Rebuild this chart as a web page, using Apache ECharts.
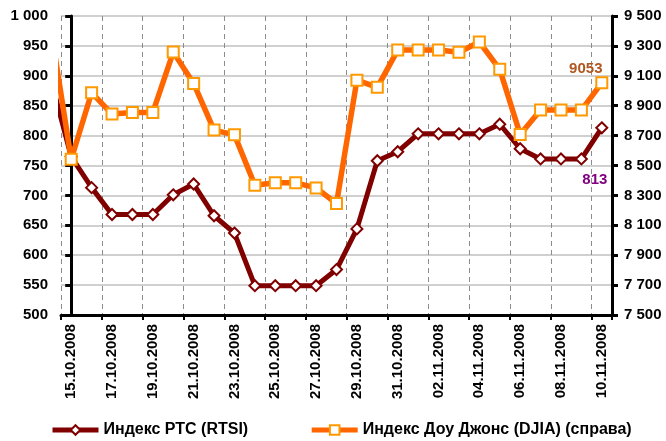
<!DOCTYPE html>
<html>
<head>
<meta charset="utf-8">
<script src="https://cdn.jsdelivr.net/npm/echarts@6/dist/echarts.min.js"></script>
<style>
html,body{margin:0;padding:0;background:#fff;}
#chart{width:666px;height:441px;}
</style>
</head>
<body>
<div id="chart"></div>
<script>
// Categories (dates)
const dates = [
  "15.10.2008","16.10.2008","17.10.2008","18.10.2008","19.10.2008","20.10.2008","21.10.2008",
  "22.10.2008","23.10.2008","24.10.2008","25.10.2008","26.10.2008","27.10.2008","28.10.2008",
  "29.10.2008","30.10.2008","31.10.2008","01.11.2008","02.11.2008","03.11.2008","04.11.2008",
  "05.11.2008","06.11.2008","07.11.2008","08.11.2008","09.11.2008","10.11.2008"
];
// Value of each index on the day before the first shown date (line enters from the left edge)
const rtsiPrev = 894;
const djiaPrev = 9414;
// Индекс РТС (RTSI), left axis
const rtsi = [765,713,668,668,668,701,719,666,637,549,549,549,549,576,644,758,773,803,803,803,803,819,778,761,761,761,813];
// Индекс Доу Джонс (DJIA), right axis
const djia = [8542,8987,8844,8855,8855,9259,9049,8737,8705,8368,8384,8384,8350,8246,9071,9023,9272,9272,9272,9257,9326,9143,8708,8871,8871,8871,9053];
const rtsiName = "Индекс РТС (RTSI)";
const djiaName = "Индекс Доу Джонс (DJIA) (справа)";
const leftTicks = {min: 500, max: 1000, interval: 50};
const rightTicks = {min: 7500, max: 9500, interval: 200};

function fmtSpace(v){
  return String(Math.round(v)).replace(/\B(?=(\d{3})+(?!\d))/g, " ");
}
function buildData(prev, arr, labelCfg){
  const out = [{value: [-1, prev], symbol: 'none'}];
  arr.forEach((v, i) => {
    const item = {value: [i, v]};
    if (i === arr.length - 1 && labelCfg) item.label = labelCfg;
    out.push(item);
  });
  return out;
}

const FONT = "Liberation Sans, Arial, sans-serif";
const chart = echarts.init(document.getElementById('chart'), null, {renderer: 'canvas'});
const option = {
  backgroundColor: '#ffffff',
  animation: false,
  grid: {left: 61, right: 54, top: 16, bottom: 126, containLabel: false},
  legend: {
    bottom: 3,
    left: 50,
    padding: 0,
    itemWidth: 46,
    itemHeight: 12,
    itemGap: 61,
    lineStyle: {width: 5},
    textStyle: {fontFamily: FONT, fontWeight: 'bold', fontSize: 16, color: '#000'},
    data: [rtsiName, djiaName]
  },
  xAxis: [
    {
      type: 'category',
      data: dates,
      boundaryGap: true,
      position: 'bottom',
      axisLine: {show: true, lineStyle: {color: '#000', width: 3}},
      axisTick: {show: true, interval: 1, length: 5, lineStyle: {color: '#000', width: 2}},
      axisLabel: {interval: 1, rotate: 90, margin: 9, color: '#000', fontFamily: FONT, fontWeight: 'bold', fontSize: 15},
      splitLine: {show: true, interval: 1, lineStyle: {color: '#8c8c8c', width: 1, type: [5, 4]}}
    },
    {
      type: 'value',
      min: -0.5,
      max: dates.length - 0.5,
      show: false,
      splitLine: {show: false}
    }
  ],
  yAxis: [
    {
      type: 'value',
      position: 'left',
      min: leftTicks.min, max: leftTicks.max, interval: leftTicks.interval,
      axisLine: {show: true, lineStyle: {color: '#000', width: 3}},
      axisTick: {show: true, length: 6, lineStyle: {color: '#000', width: 3}},
      axisLabel: {margin: 13, color: '#000', fontFamily: FONT, fontWeight: 'bold', fontSize: 15, formatter: fmtSpace},
      splitLine: {show: true, lineStyle: {color: '#c0c0c0', width: 1.5}}
    },
    {
      type: 'value',
      position: 'right',
      min: rightTicks.min, max: rightTicks.max, interval: rightTicks.interval,
      axisLine: {show: true, lineStyle: {color: '#000', width: 3}},
      axisTick: {show: true, length: 6, lineStyle: {color: '#000', width: 3}},
      axisLabel: {margin: 12, color: '#000', fontFamily: FONT, fontWeight: 'bold', fontSize: 15, formatter: fmtSpace},
      splitLine: {show: false}
    }
  ],
  series: [
    {
      name: rtsiName,
      type: 'line',
      xAxisIndex: 1,
      yAxisIndex: 0,
      clip: true,
      data: buildData(rtsiPrev, rtsi, {
        show: true, position: 'inside', offset: [-7, 52],
        formatter: p => p.value[1],
        color: '#800080', fontFamily: FONT, fontWeight: 'bold', fontSize: 15
      }),
      symbol: 'diamond',
      symbolSize: 11,
      showAllSymbol: true,
      lineStyle: {color: '#800000', width: 5},
      itemStyle: {color: '#ffffff', borderColor: '#800000', borderWidth: 2},
      emphasis: {disabled: true},
      z: 2
    },
    {
      name: djiaName,
      type: 'line',
      xAxisIndex: 1,
      yAxisIndex: 1,
      clip: true,
      data: buildData(djiaPrev, djia, {
        show: true, position: 'inside', offset: [-16, -14],
        formatter: p => p.value[1],
        color: '#B0561E', fontFamily: FONT, fontWeight: 'bold', fontSize: 15
      }),
      symbol: 'rect',
      symbolSize: 11,
      showAllSymbol: true,
      lineStyle: {color: '#FF6600', width: 5.5},
      itemStyle: {color: '#ffffff', borderColor: '#FF9900', borderWidth: 2},
      emphasis: {disabled: true},
      z: 3
    }
  ]
};
chart.setOption(option);
</script>
</body>
</html>
